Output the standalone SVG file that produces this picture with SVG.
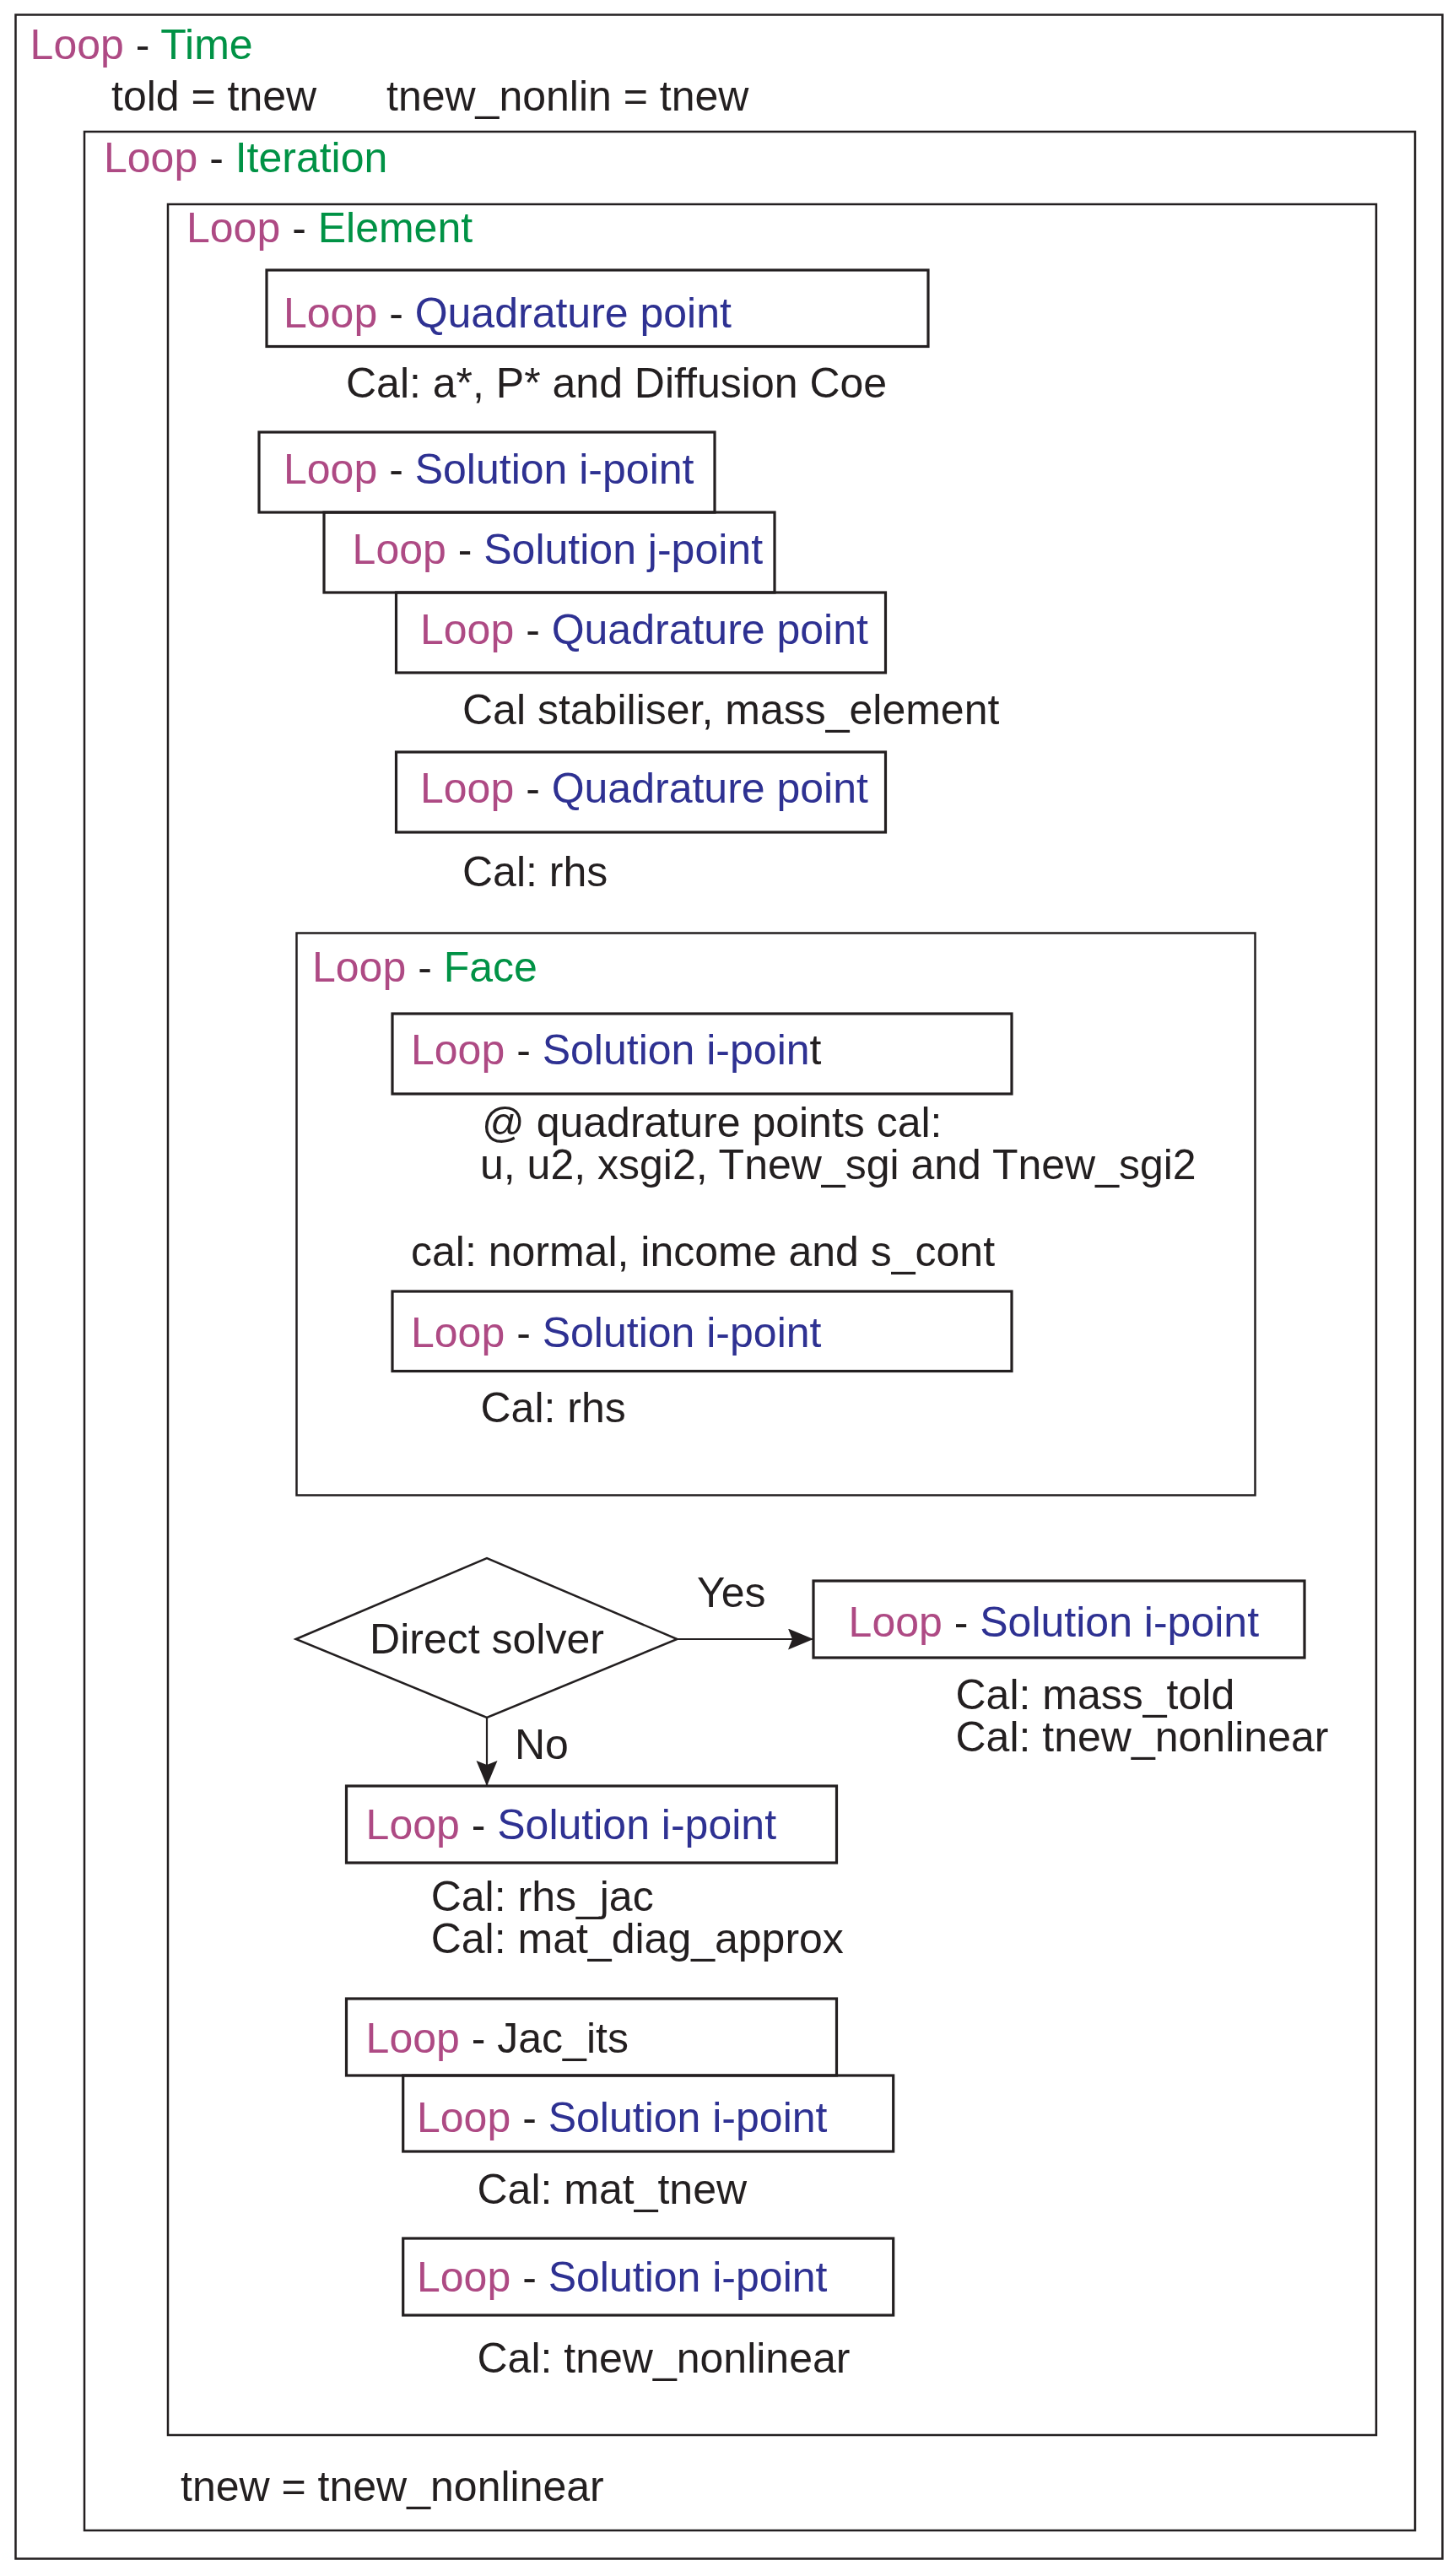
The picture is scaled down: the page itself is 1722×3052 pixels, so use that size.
<svg xmlns="http://www.w3.org/2000/svg" width="1722" height="3052" viewBox="0 0 1722 3052">
<style>
text{font-family:"Liberation Sans",Arial,sans-serif;font-size:50px;fill:#231F20}
.lp{fill:#AE4A84}
.gr{fill:#009245}
.bl{fill:#2E3192}
.frame{fill:none;stroke:#231F20;stroke-width:2.5}
.box{fill:none;stroke:#231F20;stroke-width:3.2}
.conn{fill:none;stroke:#231F20;stroke-width:2.2}
</style>
<defs>
<marker id="ah" markerUnits="userSpaceOnUse" markerWidth="32" markerHeight="26" refX="30" refY="12.5" orient="auto">
<path d="M0,0 L30,12.5 L0,25 L5,12.5 z" fill="#231F20"/>
</marker>
</defs>
<rect width="1722" height="3052" fill="#fff"/>

<g id="loop-time">
<rect class="frame" x="18.5" y="17.5" width="1691" height="3014"/>
<text x="35.6" y="70"><tspan class="lp">Loop</tspan> - <tspan class="gr">Time</tspan></text>
<text x="132" y="131">told = tnew</text>
<text x="458" y="131">tnew_nonlin = tnew</text>
</g>

<g id="loop-iteration">
<rect class="frame" x="100" y="156" width="1577" height="2842"/>
<text x="123" y="204"><tspan class="lp">Loop</tspan> - <tspan class="gr">Iteration</tspan></text>
<text x="214" y="2963">tnew = tnew_nonlinear</text>
</g>

<g id="loop-element">
<rect class="frame" x="199" y="242" width="1432" height="2643"/>
<text x="221" y="287"><tspan class="lp">Loop</tspan> - <tspan class="gr">Element</tspan></text>
</g>

<g id="quad1">
<rect class="box" x="316" y="320" width="784" height="90.5"/>
<text x="336" y="388"><tspan class="lp">Loop</tspan> - <tspan class="bl">Quadrature point</tspan></text>
<text x="410" y="471">Cal: a*, P* and Diffusion Coe</text>
</g>

<g id="sol-i">
<rect class="box" x="307" y="512" width="540" height="95"/>
<text x="336" y="573"><tspan class="lp">Loop</tspan> - <tspan class="bl">Solution i-point</tspan></text>
</g>

<g id="sol-j">
<rect class="box" x="384" y="607" width="534" height="95"/>
<text x="417.6" y="668"><tspan class="lp">Loop</tspan> - <tspan class="bl">Solution j-point</tspan></text>
</g>

<g id="quad2">
<rect class="box" x="469.5" y="702" width="580" height="95"/>
<text x="498" y="763"><tspan class="lp">Loop</tspan> - <tspan class="bl">Quadrature point</tspan></text>
<text x="548" y="858">Cal stabiliser, mass_element</text>
</g>

<g id="quad3">
<rect class="box" x="469.5" y="891" width="580" height="95"/>
<text x="498" y="951"><tspan class="lp">Loop</tspan> - <tspan class="bl">Quadrature point</tspan></text>
<text x="548" y="1050">Cal: rhs</text>
</g>

<g id="loop-face">
<rect class="frame" x="351.5" y="1105.5" width="1136" height="666"/>
<text x="370" y="1162.5"><tspan class="lp">Loop</tspan> - <tspan class="gr">Face</tspan></text>
</g>

<g id="face-sol1">
<rect class="box" x="465" y="1201" width="734" height="95"/>
<text x="487" y="1261"><tspan class="lp">Loop</tspan> - <tspan class="bl">Solution i-poin</tspan>t</text>
<text x="571" y="1347">@ quadrature points cal:</text>
<text x="569" y="1397">u, u2, xsgi2, Tnew_sgi and Tnew_sgi2</text>
<text x="487" y="1499.5">cal: normal, income and s_cont</text>
</g>

<g id="face-sol2">
<rect class="box" x="465" y="1530" width="734" height="94.5"/>
<text x="487" y="1595.5"><tspan class="lp">Loop</tspan> - <tspan class="bl">Solution i-point</tspan></text>
<text x="569.5" y="1685">Cal: rhs</text>
</g>

<g id="direct-solver">
<polygon points="350.7,1942 577,1846 802.5,1942 577,2035" fill="#fff" stroke="#231F20" stroke-width="2.5"/>
<text x="577" y="1958.5" text-anchor="middle">Direct solver</text>
</g>

<g id="yes-sol">
<rect class="box" x="964" y="1873" width="582" height="91"/>
<text x="1005.6" y="1938.5"><tspan class="lp">Loop</tspan> - <tspan class="bl">Solution i-point</tspan></text>
<text x="1132.5" y="2024.5">Cal: mass_told</text>
<text x="1132.5" y="2074.5">Cal: tnew_nonlinear</text>
</g>

<g id="no-sol">
<rect class="box" x="410.5" y="2116" width="581" height="91"/>
<text x="433.6" y="2179"><tspan class="lp">Loop</tspan> - <tspan class="bl">Solution i-point</tspan></text>
<text x="510.7" y="2263.5">Cal: rhs_jac</text>
<text x="510.7" y="2313.5">Cal: mat_diag_approx</text>
</g>

<g id="jac-its">
<rect class="box" x="410.5" y="2368" width="581" height="91"/>
<text x="433.6" y="2432"><tspan class="lp">Loop</tspan> - Jac_its</text>
</g>

<g id="jac-sol">
<rect class="box" x="477.7" y="2459" width="581" height="90"/>
<text x="494" y="2526"><tspan class="lp">Loop</tspan> - <tspan class="bl">Solution i-point</tspan></text>
<text x="565.5" y="2611">Cal: mat_tnew</text>
</g>

<g id="final-sol">
<rect class="box" x="477.7" y="2652" width="581" height="91"/>
<text x="494" y="2715"><tspan class="lp">Loop</tspan> - <tspan class="bl">Solution i-point</tspan></text>
<text x="565.5" y="2811">Cal: tnew_nonlinear</text>
</g>

<g id="connectors">
<line class="conn" x1="802.5" y1="1942" x2="964" y2="1942" marker-end="url(#ah)"/>
<text x="826" y="1904">Yes</text>
<line class="conn" x1="577" y1="2035" x2="577" y2="2116" marker-end="url(#ah)"/>
<text x="610" y="2084">No</text>
</g>
</svg>
